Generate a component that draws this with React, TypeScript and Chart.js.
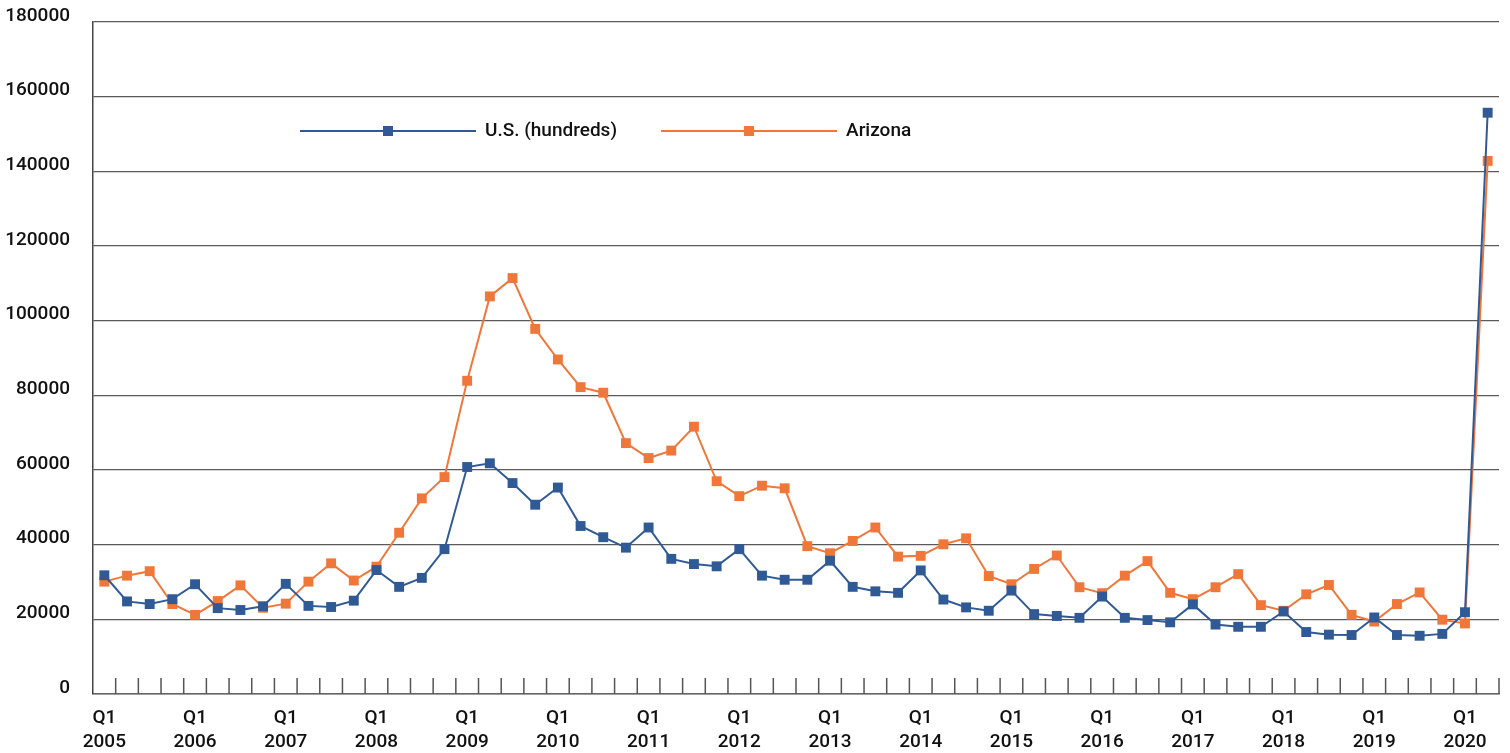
import React, { useEffect, useRef } from 'react';
import { Chart, registerables } from 'chart.js';

Chart.register(...registerables);

const years = [2005, 2006, 2007, 2008, 2009, 2010, 2011, 2012, 2013, 2014, 2015, 2016, 2017, 2018, 2019, 2020];
const quarterNames = ['Q1', 'Q2', 'Q3', 'Q4'];
const categories: string[] = [];
years.forEach((y) => {
  quarterNames.forEach((q) => {
    if (y === 2020 && (q === 'Q3' || q === 'Q4')) return;
    categories.push(`${q} ${y}`);
  });
});

const usHundreds = [
  31800, 24800, 24100, 25400,
  29400, 23000, 22500, 23500,
  29500, 23600, 23300, 25000,
  33200, 28700, 31100, 38800,
  60800, 61800, 56500, 50700,
  55300, 45000, 42000, 39200,
  44600, 36200, 34800, 34200,
  38800, 31700, 30600, 30600,
  35700, 28700, 27500, 27100,
  33100, 25300, 23200, 22300,
  27700, 21400, 20900, 20400,
  26100, 20400, 19800, 19200,
  24000, 18600, 18000, 18000,
  22100, 16600, 15900, 15800,
  20500, 15800, 15600, 16100,
  21900, 155700,
];

const arizona = [
  30100, 31700, 32900, 24100,
  21200, 24900, 29100, 23100,
  24200, 30100, 35000, 30400,
  34100, 43200, 52400, 58100,
  83900, 106500, 111400, 97800,
  89600, 82200, 80700, 67200,
  63200, 65200, 71600, 57000,
  53000, 55800, 55100, 39600,
  37700, 41000, 44600, 36800,
  37000, 40100, 41700, 31600,
  29400, 33500, 37100, 28600,
  27000, 31700, 35600, 27100,
  25400, 28600, 32100, 23800,
  22300, 26700, 29200, 21200,
  19400, 24100, 27200, 19900,
  18900, 142800,
];

const seriesNames = ['U.S. (hundreds)', 'Arizona'];
const seriesColors = ['#305A96', '#F0773A'];
const yTicks = [0, 20000, 40000, 60000, 80000, 100000, 120000, 140000, 160000, 180000];

const FONT = 'Roboto, "Noto Sans", sans-serif';

const innerTicksPlugin = {
  id: 'innerTicks',
  afterDatasetsDraw(chart: any) {
    const sx = chart.scales.x;
    const area = chart.chartArea;
    const n = chart.data.labels.length;
    const w = (sx.right - sx.left) / n;
    const ctx = chart.ctx;
    ctx.save();
    ctx.strokeStyle = '#555';
    ctx.lineWidth = 1.5;
    ctx.beginPath();
    for (let i = 1; i <= n; i++) {
      const x = sx.left + i * w;
      ctx.moveTo(x, area.bottom);
      ctx.lineTo(x, area.bottom - 16);
    }
    ctx.stroke();
    ctx.restore();
  },
};

const legendPlugin = {
  id: 'lineLegend',
  afterDraw(chart: any) {
    const ctx = chart.ctx;
    const area = chart.chartArea;
    let x = area.left + 207;
    const y = area.top + 109;
    ctx.save();
    ctx.font = `500 19px ${FONT}`;
    ctx.textBaseline = 'middle';
    ctx.textAlign = 'left';
    chart.data.datasets.forEach((ds: any) => {
      const lineLen = 176;
      ctx.strokeStyle = ds.borderColor;
      ctx.lineWidth = 2;
      ctx.beginPath();
      ctx.moveTo(x, y);
      ctx.lineTo(x + lineLen, y);
      ctx.stroke();
      ctx.fillStyle = ds.borderColor;
      ctx.fillRect(x + lineLen / 2 - 5, y - 5, 10, 10);
      ctx.fillStyle = '#111';
      ctx.fillText(ds.label, x + lineLen + 9, y);
      const tw = ctx.measureText(ds.label).width;
      x = x + lineLen + 9 + tw + 44;
    });
    ctx.restore();
  },
};

export default function App() {
  const canvasRef = useRef<HTMLCanvasElement | null>(null);

  useEffect(() => {
    if (!canvasRef.current) return;
    const chart = new Chart(canvasRef.current, {
      type: 'line',
      data: {
        labels: categories,
        datasets: [
          {
            label: seriesNames[0],
            data: usHundreds,
            borderColor: seriesColors[0],
            backgroundColor: seriesColors[0],
            borderWidth: 2,
            pointStyle: 'rect',
            pointRadius: 7,
            pointBorderWidth: 0,
            tension: 0,
          },
          {
            label: seriesNames[1],
            data: arizona,
            borderColor: seriesColors[1],
            backgroundColor: seriesColors[1],
            borderWidth: 2,
            pointStyle: 'rect',
            pointRadius: 7,
            pointBorderWidth: 0,
            tension: 0,
          },
        ],
      },
      options: {
        animation: false,
        responsive: true,
        maintainAspectRatio: false,
        layout: { padding: { top: 22, right: 11, left: 0, bottom: 0 } },
        plugins: {
          legend: { display: false },
          tooltip: { enabled: false },
        },
        scales: {
          x: {
            type: 'category',
            offset: true,
            afterFit: (s: any) => { s.height = 59; s.paddingLeft = 0; s.paddingRight = 0; },
            grid: { display: false, drawTicks: false },
            border: { display: true, color: '#666', width: 1.5 },
            ticks: {
              autoSkip: false,
              maxRotation: 0,
              minRotation: 0,
              padding: 13,
              color: '#111',
              font: { family: FONT, size: 19, weight: '500', lineHeight: 1.22 },
              callback: function (this: any, _v: any, i: number) {
                const lab = categories[i];
                const [q, y] = lab.split(' ');
                return q === 'Q1' ? [q, y] : '';
              },
            },
          },
          y: {
            min: yTicks[0],
            max: yTicks[yTicks.length - 1],
            afterFit: (s: any) => { s.width = 93; s.paddingTop = 0; s.paddingBottom = 0; },
            afterBuildTicks: (s: any) => { s.ticks = yTicks.map((v) => ({ value: v })); },
            grid: { color: '#5a5a5a', lineWidth: 1.2, drawTicks: false },
            border: { display: true, color: '#444', width: 1.5 },
            ticks: {
              padding: 23,
              labelOffset: -6,
              color: '#111',
              font: { family: FONT, size: 19, weight: '500' },
              callback: (v: any) => String(v),
            },
          },
        },
      },
      plugins: [innerTicksPlugin, legendPlugin],
    });
    return () => chart.destroy();
  }, []);

  return (
    <div style={{ position: 'absolute', left: 0, top: 0, width: 1510, height: 753, background: '#fff' }}>
      <canvas ref={canvasRef} />
    </div>
  );
}
